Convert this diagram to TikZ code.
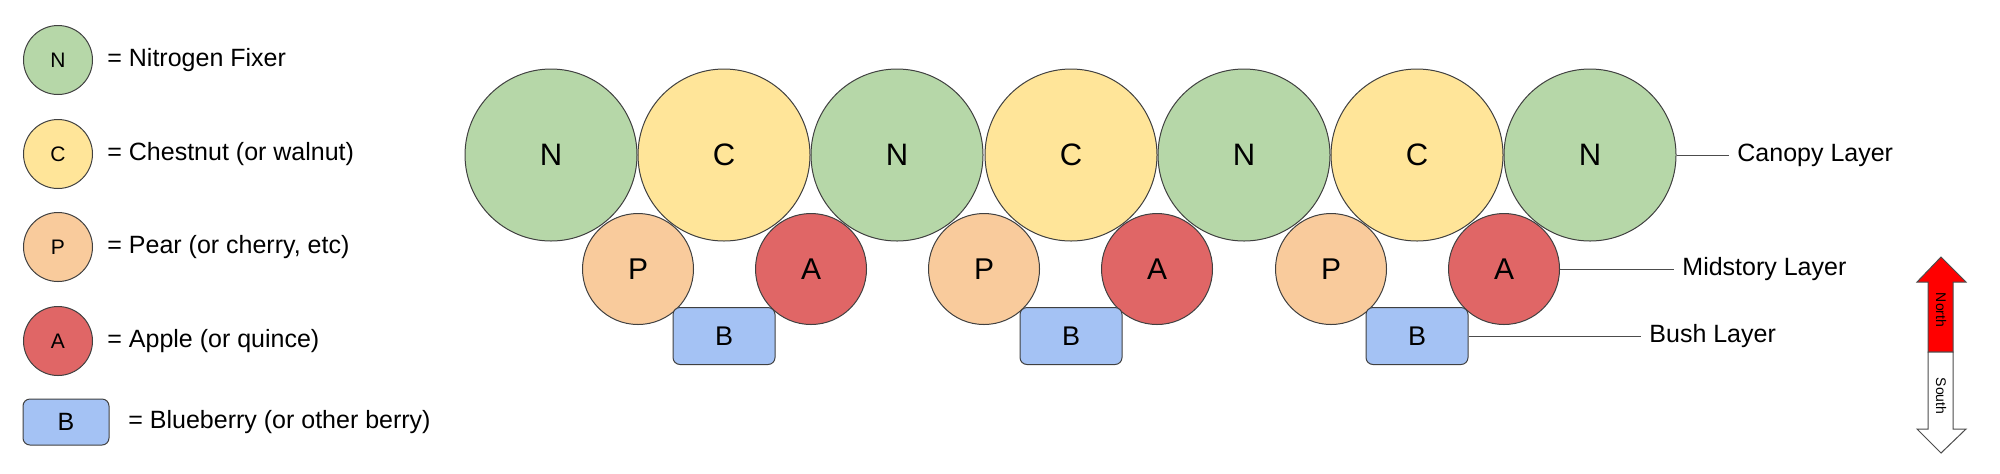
\documentclass[tikz,border=0pt]{standalone}
\usepackage{fontspec}
\setmainfont{Liberation Sans}
\usetikzlibrary{positioning}

\definecolor{fixgreen}{HTML}{B6D7A8}
\definecolor{nutyellow}{HTML}{FFE599}
\definecolor{pearorange}{HTML}{F9CB9C}
\definecolor{applered}{HTML}{E06666}
\definecolor{berryblue}{HTML}{A4C2F4}
\definecolor{northred}{HTML}{FF0000}

\begin{document}
\begin{tikzpicture}[
  x=0.5pt,
  y=0.5pt,
  font=\fontsize{12.5}{15}\selectfont,
  tree/.style={circle, draw=black!75, line width=0.5pt, inner sep=0pt},
  canopy/.style={tree, minimum size=86pt, font=\fontsize{15.5}{18}\selectfont},
  midstory/.style={tree, minimum size=55.5pt, font=\fontsize{15}{18}\selectfont},
  bush/.style={draw=black!75, line width=0.5pt, rounded corners=3.5pt, fill=berryblue,
    inner sep=0pt, minimum width=51pt, minimum height=28.5pt, font=\fontsize{13.5}{16}\selectfont},
  keytree/.style={tree, minimum size=34.5pt, font=\fontsize{10.5}{12}\selectfont},
  keybush/.style={bush, rounded corners=3.5pt, minimum width=43pt, minimum height=23pt,
    font=\fontsize{12.5}{14}\selectfont},
  keytext/.style={anchor=west, inner sep=0pt},
  leader/.style={draw=black!70, line width=0.5pt},
  lab/.style={anchor=west, inner sep=4pt}
]
  \useasboundingbox (0,0) rectangle (2000,-473);

  % Legend down the left side.
  \node[keytree, fill=fixgreen]   at (58,-60)  (keyn) {N};
  \node[keytree, fill=nutyellow]  at (58,-154) (keyc) {C};
  \node[keytree, fill=pearorange] at (58,-247) (keyp) {P};
  \node[keytree, fill=applered]   at (58,-341) (keya) {A};
  \node[keybush]                  at (66,-422) (keyb) {B};

  \node[keytext] at (107,-60)  (keyntext) {= Nitrogen Fixer};
  \node[keytext] at (107,-154) (keyctext) {= Chestnut (or walnut)};
  \node[keytext] at (107,-247) (keyptext) {= Pear (or cherry, etc)};
  \node[keytext] at (107,-341) (keyatext) {= Apple (or quince)};
  \node[keytext] at (128,-422) (keybtext) {= Blueberry (or other berry)};

  % Canopy row: fixers alternating with nut trees.
  \node[canopy, fill=fixgreen]  at (551,-155)  (n1) {N};
  \node[canopy, fill=nutyellow] at (724,-155)  (c1) {C};
  \node[canopy, fill=fixgreen]  at (897,-155)  (n2) {N};
  \node[canopy, fill=nutyellow] at (1071,-155) (c2) {C};
  \node[canopy, fill=fixgreen]  at (1244,-155) (n3) {N};
  \node[canopy, fill=nutyellow] at (1417,-155) (c3) {C};
  \node[canopy, fill=fixgreen]  at (1590,-155) (n4) {N};

  % Midstory row in the gaps below the canopy.
  \node[midstory, fill=pearorange] at (638,-269)  (p1) {P};
  \node[midstory, fill=applered]   at (811,-269)  (a1) {A};
  \node[midstory, fill=pearorange] at (984,-269)  (p2) {P};
  \node[midstory, fill=applered]   at (1157,-269) (a2) {A};
  \node[midstory, fill=pearorange] at (1331,-269) (p3) {P};
  \node[midstory, fill=applered]   at (1504,-269) (a3) {A};

  % Bush row under each chestnut.
  \node[bush] at (724,-336)  (b1) {B};
  \node[bush] at (1071,-336) (b2) {B};
  \node[bush] at (1417,-336) (b3) {B};

  % Layer labels on the right.
  \node[lab] at (1729,-155) (canopylab) {Canopy Layer};
  \node[lab] at (1674,-269) (midlab)    {Midstory Layer};
  \node[lab] at (1641,-336) (bushlab)   {Bush Layer};

  \draw[leader] (n4.east) -- (canopylab.west);
  \draw[leader] (a3.east) -- (midlab.west);
  \draw[leader] (b3.east) -- (bushlab.west);

  % North/south arrow.
  \draw[draw=black!70, line width=0.5pt, fill=northred]
    (1928,-352) -- (1928,-282) -- (1917,-282) -- (1941,-257) -- (1966,-282)
    -- (1953,-282) -- (1953,-352) -- cycle;
  \draw[draw=black!70, line width=0.5pt, fill=white]
    (1928,-352) -- (1928,-429) -- (1917,-429) -- (1941,-453) -- (1966,-429)
    -- (1953,-429) -- (1953,-352) -- cycle;
  \node[rotate=-90, inner sep=0pt, font=\fontsize{7}{8}\selectfont] at (1941,-310) (north) {North};
  \node[rotate=-90, inner sep=0pt, font=\fontsize{7}{8}\selectfont] at (1941,-396) (south) {South};

\end{tikzpicture}
\end{document}
